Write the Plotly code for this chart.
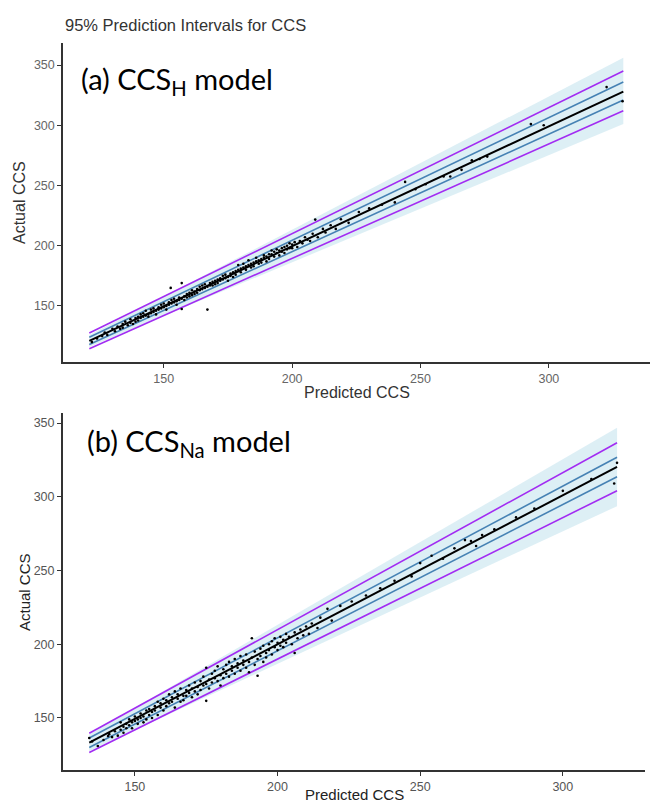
import plotly.graph_objects as go

W, H = 650, 802

# ---------------- Panel (a): CCS_H model ----------------
a_line_x = [121, 329]
a_fit = [121, 328]
a_pi_upper = [127.5, 345]
a_pi_lower = [114.5, 312]
a_ci_upper = [124, 336]
a_ci_lower = [118, 321]
a_band_upper = [126, 356]
a_band_lower = [116, 301]

a_pts_x = [122, 124, 126, 127, 128, 130, 131, 132, 133, 134, 134, 135, 136, 137, 137, 138, 139, 139, 140, 140,
           141, 141, 142, 142, 143, 143, 144, 144, 145, 145, 146, 146, 147, 147, 148, 148, 149, 149, 150, 150,
           151, 151, 152, 152, 152.7, 153, 153, 154, 154, 155, 155, 156, 156, 157, 157, 157, 158, 158, 159, 159,
           160, 160, 161, 161, 162, 162, 163, 163, 164, 164, 165, 165, 166, 166, 167, 167, 168, 168, 169, 169,
           170, 170, 171, 171, 172, 172, 173, 173, 174, 174, 175, 175, 176, 176, 177, 177, 178, 178, 179, 179,
           180, 180, 181, 181, 182, 182, 183, 183, 184, 184, 185, 185, 186, 186, 187, 187, 188, 188, 189, 189,
           190, 190, 191, 191, 192, 192, 193, 193, 194, 194, 195, 195, 196, 196, 197, 197, 198, 198, 199, 199,
           200, 200, 201, 202, 203, 204, 205, 206, 207, 208, 209, 210, 212, 213, 215, 217, 219, 222, 226, 230,
           235, 240, 244, 248, 252, 259, 261.6, 266, 270, 273, 276, 293, 298, 322.5, 328.7]
a_pts_y = [120, 123, 125, 128, 126, 131, 129, 133, 131, 135, 132, 137, 134, 136, 139, 135, 140, 137, 141, 138,
           143, 140, 141, 144, 142, 146, 143, 141, 147, 144, 145, 148, 146, 143, 149, 147, 148, 151, 149, 152,
           150, 147, 153, 151, 165, 152, 155, 153, 156, 154, 151, 157, 155, 156, 169, 147.5, 158, 155, 160, 157,
           161, 158, 159, 163, 162, 160, 164, 161, 163, 166, 164, 167, 165, 168, 147, 166, 169, 167, 170, 167,
           171, 168, 172, 169, 173, 171, 175, 172, 173, 176, 174, 171, 177, 175, 178, 174, 179, 176, 180, 184,
           178, 181, 182, 185, 180, 183, 184, 188, 182, 185, 186, 183, 187, 190, 185, 188, 189, 186, 192, 190,
           187, 191, 193, 189, 193, 196, 191, 195, 194, 197, 192, 196, 198, 195, 199, 194, 200, 197, 198, 202,
           201, 198, 203, 199, 204, 202, 207, 205, 204, 210, 221.7, 207, 214, 211, 217, 214, 222, 219, 228, 231,
           234, 236, 253, 247, 251, 257.5, 257.5, 263, 271, 272, 274, 301, 300, 331.7, 320]

# ---------------- Panel (b): CCS_Na model ----------------
b_line_x = [134, 319]
b_fit = [133.2, 320.2]
b_pi_upper = [139.6, 336.6]
b_pi_lower = [126.6, 304.1]
b_ci_upper = [136.4, 326.8]
b_ci_lower = [130.0, 313.6]
b_band_upper = [139, 346.8]
b_band_lower = [127.5, 293.6]

b_pts_x = [134, 135, 137, 139, 140.6, 141, 142, 143, 144, 145, 145, 146, 146, 147, 147, 148, 148, 149, 149, 150,
           150, 151, 151, 152, 152, 153, 153, 154, 154, 155, 155, 156, 156, 157, 157, 158, 158, 159, 159, 160,
           160, 161, 161, 162, 162, 163, 163, 164, 164, 165, 165, 166, 166, 167, 167, 168, 168, 169, 169, 170,
           170, 171, 171, 172, 172, 173, 173, 174, 174, 175, 175, 175, 176, 176, 177, 177, 178, 178, 179, 179,
           180, 180, 181, 181, 182, 182, 183, 183, 184, 184, 185, 185, 186, 186, 187, 187, 188, 188, 189, 189,
           190, 190, 191, 191, 192, 192, 193, 193, 194, 194, 195, 195, 196, 196, 197, 197, 198, 198, 199, 199,
           200, 200, 201, 201, 202, 202, 203, 203, 204, 205, 206, 206, 207, 208, 209, 210, 211, 212, 214, 215,
           217.5, 219, 222, 226, 231, 236, 241, 247, 250, 254, 258, 262, 265.7, 267.8, 269.6, 271.7, 276, 283.6, 290, 300,
           310, 318, 319]
b_pts_y = [136.4, 134, 131, 135, 137.7, 139, 137, 141, 138, 147, 142, 144, 140, 146, 143, 145, 149, 147, 143, 148,
           151, 149, 146, 150, 153, 151, 147, 155, 149, 152, 156, 154, 150, 158, 155, 152, 161, 157, 160, 155,
           163, 158, 162, 160, 166, 161, 164, 157, 168, 163, 166, 161, 170, 165, 162, 169, 165, 172, 167, 164,
           170, 168, 174, 166, 171, 175, 169, 172, 178, 161.6, 173, 184, 176, 170, 180, 174, 177, 182, 175, 185,
           179, 172, 183, 177, 186, 180, 178, 188, 182, 185, 180, 190, 184, 187, 182, 192, 186, 189, 184, 193,
           188, 181, 204, 191, 186, 195, 178.6, 190, 197, 192, 188, 199, 194, 191, 200, 196, 193, 202, 198, 204,
           196, 201, 205, 199, 203, 198, 207, 201, 205, 200, 194, 208, 204, 210, 206, 212, 207, 214, 211, 218,
           224, 216, 226, 229, 233, 238, 243, 246, 255, 260, 258, 265, 270.6, 270, 266.6, 274, 278, 286, 292, 304,
           312, 309, 323]

PURPLE = "#A22CF2"
STEEL = "#4682B4"
BAND = "rgba(173,216,230,0.42)"

fig = go.Figure()


def add_panel(xa, ya, lx, fit, piu, pil, ciu, cil, bu, bl, px, py, lw):
    fig.add_trace(go.Scatter(x=lx + lx[::-1], y=bu + bl[::-1], fill="toself", fillcolor=BAND,
                             line=dict(width=0), mode="lines", hoverinfo="skip", showlegend=False,
                             xaxis=xa, yaxis=ya))
    for yy in (ciu, cil):
        fig.add_trace(go.Scatter(x=lx, y=yy, mode="lines", line=dict(color=STEEL, width=lw),
                                 showlegend=False, xaxis=xa, yaxis=ya))
    for yy in (piu, pil):
        fig.add_trace(go.Scatter(x=lx, y=yy, mode="lines", line=dict(color=PURPLE, width=lw),
                                 showlegend=False, xaxis=xa, yaxis=ya))
    fig.add_trace(go.Scatter(x=lx, y=fit, mode="lines", line=dict(color="black", width=2),
                             showlegend=False, xaxis=xa, yaxis=ya))
    fig.add_trace(go.Scatter(x=px, y=py, mode="markers", marker=dict(color="black", size=2.6),
                             showlegend=False, xaxis=xa, yaxis=ya))


add_panel("x", "y", a_line_x, a_fit, a_pi_upper, a_pi_lower, a_ci_upper, a_ci_lower,
          a_band_upper, a_band_lower, a_pts_x, a_pts_y, 1.6)
add_panel("x2", "y2", b_line_x, b_fit, b_pi_upper, b_pi_lower, b_ci_upper, b_ci_lower,
          b_band_upper, b_band_lower, b_pts_x, b_pts_y, 1.6)

def ax(domain, rng, tickvals, color, lw, anchor):
    return dict(domain=domain, range=rng, tickvals=tickvals, showgrid=False, zeroline=False,
                showline=True, linecolor="#333", linewidth=lw, ticks="outside", ticklen=4,
                tickcolor="#333", tickwidth=1, anchor=anchor,
                tickfont=dict(family="Liberation Sans, Arial", size=12.5, color=color))

fig.update_layout(
    width=W, height=H, margin=dict(l=0, r=0, t=0, b=0),
    paper_bgcolor="white", plot_bgcolor="white",
    xaxis=ax([63 / W, 1.0], [110.75, 339.4], [150, 200, 250, 300], "#666", 1.5, "y"),
    yaxis=ax([(H - 362) / H, (H - 43) / H], [103.5, 368.3], [150, 200, 250, 300, 350], "#666", 1.5, "x"),
    xaxis2=ax([63 / W, 645 / W], [124.8, 328.8], [150, 200, 250, 300], "#555", 2, "y2"),
    yaxis2=ax([(H - 770) / H, (H - 413) / H], [114.7, 356.8], [150, 200, 250, 300, 350], "#555", 2, "x2"),
)

def ann(text, xpx, ypx, size, color="#333", family="Liberation Sans, Arial", angle=0, xanchor="center"):
    fig.add_annotation(text=text, x=xpx / W, y=1 - ypx / H, xref="paper", yref="paper",
                       showarrow=False, xanchor=xanchor, yanchor="middle", textangle=angle,
                       font=dict(family=family, size=size, color=color))

ann("95% Prediction Intervals for CCS", 63, 25, 16.5, xanchor="left")
ann("(a) CCS<sub>H</sub> model", 79, 80, 29, color="black", family="Lato, Open Sans", xanchor="left")
ann("(b) CCS<sub>Na</sub> model", 85, 442, 29, color="black", family="Lato, Open Sans", xanchor="left")
ann("Actual CCS", 20, 203, 16, angle=-90)
ann("Predicted CCS", 357, 393, 16)
ann("Actual CCS", 24, 592, 15, color="#222", angle=-90)
ann("Predicted CCS", 355, 794, 15, color="#222")

fig.write_html("out.html", config={"displayModeBar": False},
               post_script="document.body.style.margin='0';document.body.style.padding='0';"
                           "document.documentElement.style.overflow='hidden';")
